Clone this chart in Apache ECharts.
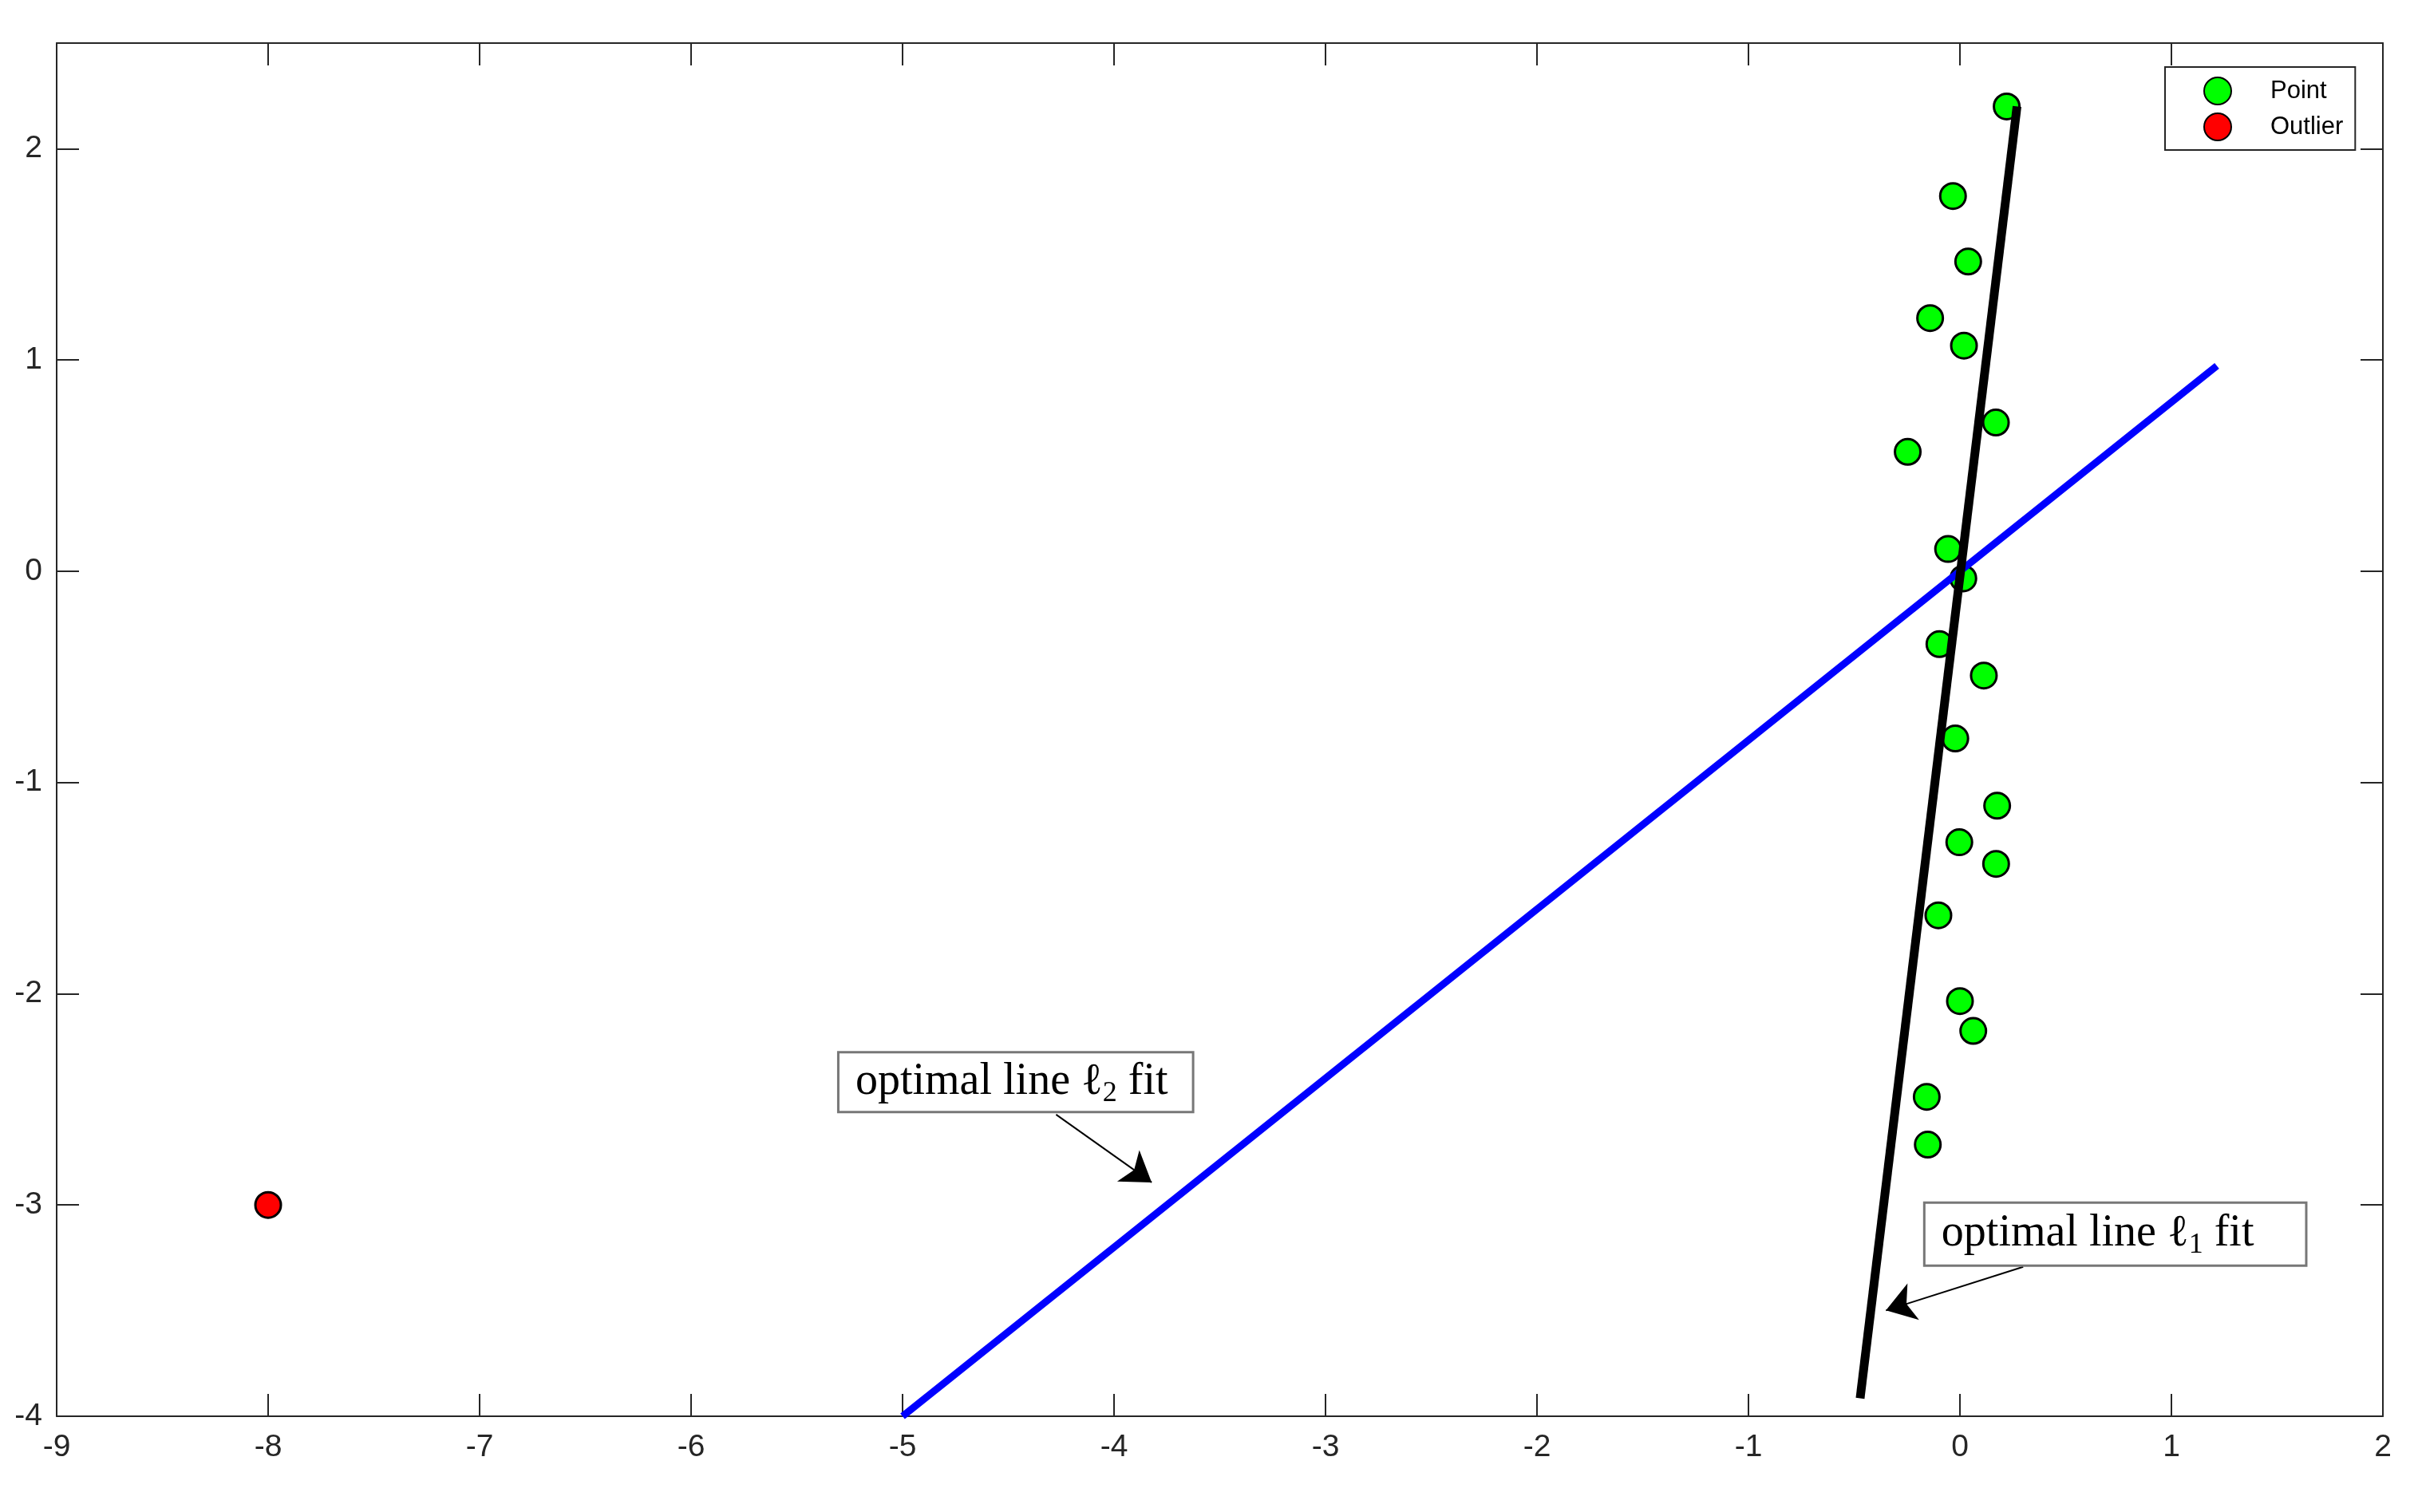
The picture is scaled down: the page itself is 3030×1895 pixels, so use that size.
<!DOCTYPE html>
<html>
<head>
<meta charset="utf-8">
<title>l1 vs l2 line fit</title>
<script src="https://cdn.jsdelivr.net/npm/echarts@6/dist/echarts.min.js"></script>
<style>
html, body { margin: 0; padding: 0; background: #fff; }
#chart { width: 3030px; height: 1895px; }
</style>
</head>
<body>
<div id="chart"></div>
<script>
// inlier points
var pointX = [0.221, -0.033, 0.039, -0.141, 0.019, 0.170, -0.247, -0.056, 0.016, -0.097,
              0.113, -0.022, 0.176, -0.003, 0.171, -0.102, 0.000, 0.063, -0.157, -0.152];
var pointY = [2.200, 1.776, 1.466, 1.198, 1.068, 0.704, 0.565, 0.105, -0.034, -0.345,
              -0.494, -0.792, -1.110, -1.283, -1.385, -1.629, -2.035, -2.176, -2.488, -2.714];
// the outlier
var outlierX = [-8];
var outlierY = [-3];
// fitted lines (end points)
var l2LineX = [-5, 1.215];
var l2LineY = [-4, 0.972];
var l1LineX = [-0.472, 0.27];
var l1LineY = [-3.915, 2.2];
// ticks
var xTicks = [-9, -8, -7, -6, -5, -4, -3, -2, -1, 0, 1, 2];
var yTicks = [-4, -3, -2, -1, 0, 1, 2];
// annotations: box centre, arrow start, arrow tip (data coords)
var annotSub = ['2', '1'];
var annotBoxX = [-4.465, 0.7345];
var annotBoxY = [-2.418, -3.138];
var arrowFromX = [-4.274, 0.299];
var arrowFromY = [-2.572, -3.293];
var arrowToX = [-3.822, -0.350];
var arrowToY = [-2.893, -3.499];

function zip(xs, ys) {
    return xs.map(function (x, i) { return [x, ys[i]]; });
}

var axisColor = '#262626';
var sansFont = '"Liberation Sans", Arial, sans-serif';
var serifFont = '"Liberation Serif", "DejaVu Serif", serif';

function makeXAxis(pos, labels) {
    return {
        type: 'value', min: -9, max: 2, position: pos,
        axisLine: { show: true, onZero: false, lineStyle: { color: axisColor, width: 2 } },
        axisTick: { show: true, inside: true, length: 28, customValues: xTicks,
                    lineStyle: { color: axisColor, width: 2 } },
        axisLabel: { show: labels, customValues: xTicks, fontSize: 39, color: axisColor,
                     fontFamily: sansFont, margin: 20 },
        splitLine: { show: false }
    };
}
function makeYAxis(pos, labels) {
    return {
        type: 'value', min: -4, max: 2.5, position: pos,
        axisLine: { show: true, onZero: false, lineStyle: { color: axisColor, width: 2 } },
        axisTick: { show: true, inside: true, length: 28, customValues: yTicks,
                    lineStyle: { color: axisColor, width: 2 } },
        axisLabel: { show: labels, customValues: yTicks, fontSize: 39, color: axisColor,
                     fontFamily: sansFont, margin: 18 },
        splitLine: { show: false }
    };
}

var annotData = annotBoxX.map(function (x, i) {
    return {
        value: [x, annotBoxY[i]],
        label: {
            padding: i === 0 ? [4, 30, 4, 20] : [6, 64, 6, 20],
            formatter: '{t|optimal line }{l|ℓ}{s|' + annotSub[i] + '}{t| fit}'
        }
    };
});

var arrowData = arrowFromX.map(function (x, i) {
    return [{ coord: [x, arrowFromY[i]] }, { coord: [arrowToX[i], arrowToY[i]] }];
});

var chart = echarts.init(document.getElementById('chart'));
chart.setOption({
    backgroundColor: '#fff',
    animation: false,
    grid: { left: 71, right: 44, top: 54, bottom: 120 },
    xAxis: [makeXAxis('bottom', true), makeXAxis('top', false)],
    yAxis: [makeYAxis('left', true), makeYAxis('right', false)],
    legend: {
        data: ['Point', 'Outlier'],
        orient: 'vertical',
        left: 2713, top: 84,
        backgroundColor: '#fff',
        borderColor: axisColor, borderWidth: 2, borderRadius: 0,
        padding: [12, 15, 11, 48],
        itemWidth: 34, itemHeight: 34, itemGap: 9,
        textStyle: { fontSize: 31, color: '#000', fontFamily: sansFont, padding: [0, 0, 0, 44] }
    },
    series: [
        {
            name: 'Point', type: 'scatter', data: zip(pointX, pointY),
            symbol: 'circle', symbolSize: 32,
            itemStyle: { color: '#00ff00', borderColor: '#000', borderWidth: 3, opacity: 1 }
        },
        {
            name: 'Outlier', type: 'scatter', data: zip(outlierX, outlierY),
            symbol: 'circle', symbolSize: 32,
            itemStyle: { color: '#ff0000', borderColor: '#000', borderWidth: 3, opacity: 1 }
        },
        {
            name: 'l2 fit', type: 'line', data: zip(l2LineX, l2LineY),
            showSymbol: false, symbol: 'none',
            lineStyle: { color: '#0000ff', width: 9 }
        },
        {
            name: 'l1 fit', type: 'line', data: zip(l1LineX, l1LineY),
            showSymbol: false, symbol: 'none',
            lineStyle: { color: '#000', width: 11 }
        },
        {
            name: 'annotations', type: 'scatter', silent: true, z: 5,
            symbol: 'circle', symbolSize: 1, data: annotData,
            itemStyle: { color: 'rgba(255,255,255,0)', borderWidth: 0 },
            label: {
                show: true, position: 'inside', color: '#000', opacity: 1,
                backgroundColor: '#fff', borderColor: '#777', borderWidth: 3,
                rich: {
                    t: { fontSize: 56, fontFamily: serifFont, color: '#000', lineHeight: 64 },
                    l: { fontSize: 56, fontFamily: serifFont, color: '#000', lineHeight: 64 },
                    s: { fontSize: 36, fontFamily: serifFont, color: '#000', lineHeight: 40,
                         verticalAlign: 'bottom' }
                }
            },
            markLine: {
                silent: true,
                symbol: ['none', 'arrow'],
                symbolSize: 36,
                lineStyle: { color: '#000', width: 2, type: 'solid' },
                label: { show: false },
                emphasis: { disabled: true },
                data: arrowData
            }
        }
    ]
});
</script>
</body>
</html>
